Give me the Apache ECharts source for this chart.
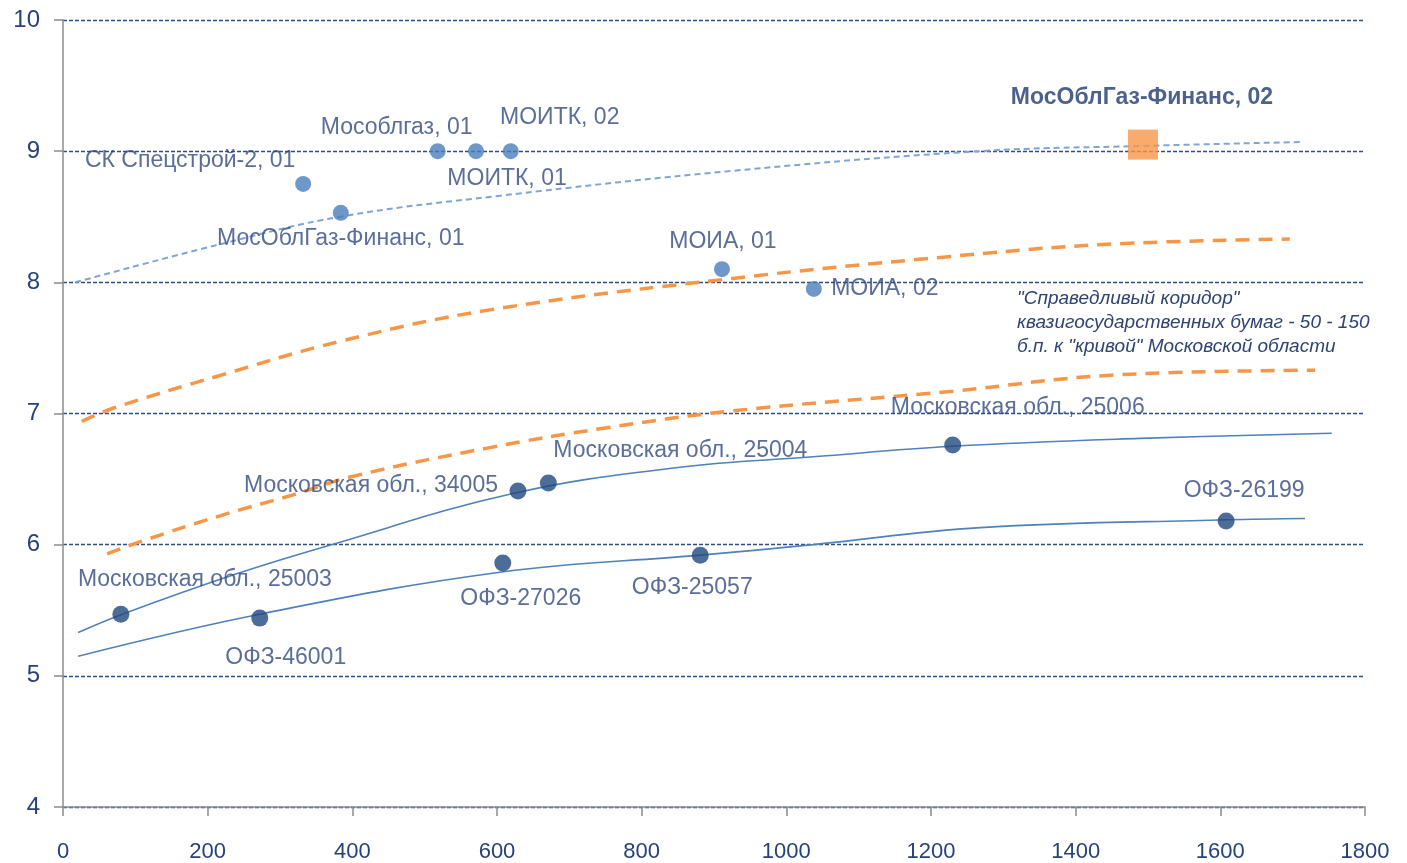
<!DOCTYPE html>
<html>
<head>
<meta charset="utf-8">
<script src="https://cdn.jsdelivr.net/npm/echarts@6/dist/echarts.min.js"></script>
<style>
html,body{margin:0;padding:0;background:#fff;}
#c{width:1407px;height:863px;}
</style>
</head>
<body>
<div id="c"></div>
<script>
// ---- data ----
const quasiNames = ["СК Спецстрой-2, 01","МосОблГаз-Финанс, 01","Мособлгаз, 01","МОИТК, 01","МОИТК, 02","МОИА, 01","МОИА, 02"];
const quasiX = [332, 384, 518, 571, 619, 911, 1038];
const quasiY = [8.75, 8.53, 9.00, 9.00, 9.00, 8.10, 7.95];

const regionNames = ["Московская обл., 25003","ОФЗ-46001","Московская обл., 34005","Московская обл., 25004","ОФЗ-27026","ОФЗ-25057","Московская обл., 25006","ОФЗ-26199"];
const regionX = [80, 272, 629, 671, 608, 881, 1230, 1608];
const regionY = [5.47, 5.44, 6.41, 6.47, 5.86, 5.92, 6.76, 6.18];

const newIssueNames = ["МосОблГаз-Финанс, 02"];
const newIssueX = [1493];
const newIssueY = [9.05];

const quasiTrendX = [17, 217, 383, 604, 926, 1268, 1493, 1713];
const quasiTrendY = [8.00, 8.29, 8.50, 8.66, 8.85, 9.00, 9.04, 9.07];

const corridorUpperX = [26, 69, 217, 383, 590, 926, 1213, 1443, 1696];
const corridorUpperY = [6.94, 7.04, 7.29, 7.55, 7.79, 8.03, 8.19, 8.29, 8.33];

const corridorLowerX = [61, 111, 217, 318, 400, 590, 750, 926, 1230, 1443, 1731];
const corridorLowerY = [5.93, 6.03, 6.22, 6.38, 6.52, 6.74, 6.89, 7.02, 7.17, 7.29, 7.33];

const mosCurveX = [21, 82, 241, 365, 622, 853, 1037, 1230, 1489, 1754];
const mosCurveY = [5.33, 5.47, 5.78, 5.99, 6.39, 6.59, 6.67, 6.75, 6.81, 6.85];

const ofzCurveX = [21, 272, 604, 881, 1037, 1268, 1609, 1717];
const ofzCurveY = [5.15, 5.47, 5.79, 5.92, 6.00, 6.13, 6.19, 6.20];

const annotationLines = ["\"Справедливый коридор\"", "квазигосударственных бумаг - 50 - 150", "б.п. к \"кривой\" Московской области"];

// ---- label placement (style, kept separate from data) ----
const labelOffsets = {
  "СК Спецстрой-2, 01": [-113, -23],
  "МосОблГаз-Финанс, 01": [0, 26],
  "Мособлгаз, 01": [-41, -24],
  "МОИТК, 01": [31, 27],
  "МОИТК, 02": [49, -34],
  "МОИА, 01": [1, -28],
  "МОИА, 02": [71, 0],
  "МосОблГаз-Финанс, 02": [-1, -47],
  "Московская обл., 25003": [84, -35],
  "ОФЗ-46001": [26, 40],
  "Московская обл., 34005": [-147, -5],
  "Московская обл., 25004": [132, -32],
  "ОФЗ-27026": [18, 36],
  "ОФЗ-25057": [-8, 32],
  "Московская обл., 25006": [65, -37],
  "ОФЗ-26199": [18, -30]
};

const FONT = "'Liberation Sans', Arial, sans-serif";
const LABEL_COLOR = "#324A80";

function pts(xs, ys) { return xs.map((x, i) => [x, ys[i]]); }
function labeled(names, xs, ys, bold) {
  return names.map((n, i) => ({
    name: n,
    value: [xs[i], ys[i]],
    label: {
      show: true, position: 'inside', offset: labelOffsets[n],
      formatter: n, color: bold ? '#1F3A6E' : LABEL_COLOR,
      fontSize: 23, fontWeight: bold ? 'bold' : 'normal',
      fontFamily: FONT
    }
  }));
}

const chart = echarts.init(document.getElementById('c'));
chart.setOption({
  animation: false,
  backgroundColor: '#fff',
  grid: { left: 63, right: 42, top: 20, bottom: 53 },
  xAxis: {
    type: 'value', min: 0, max: 1800, interval: 200,
    axisLine: { show: true, onZero: false, lineStyle: { color: '#8C8C8C', width: 1.5 } },
    axisTick: { show: true, length: 9, lineStyle: { color: '#8C8C8C', width: 1.5 } },
    axisLabel: { color: '#27427A', fontSize: 22, fontFamily: FONT, margin: 34, formatter: v => String(v) },
    splitLine: { show: false }
  },
  yAxis: {
    type: 'value', min: 4, max: 10, interval: 1,
    axisLine: { show: true, onZero: false, lineStyle: { color: '#8C8C8C', width: 1.5 } },
    axisTick: { show: true, inside: false, length: 9, lineStyle: { color: '#8C8C8C', width: 1.5 } },
    axisLabel: { color: '#27427A', fontSize: 24, fontFamily: FONT, margin: 23, formatter: v => String(v) },
    splitLine: { show: true, lineStyle: { color: '#2E4D87', width: 1.3, type: [4, 2] } }
  },
  graphic: [{
    type: 'group', left: 1017, top: 289,
    children: annotationLines.map((t, i) => ({
      type: 'text', left: 0, top: i * 24,
      style: { text: t, fill: '#2E4375', font: "italic 19px " + FONT }
    }))
  }],
  series: [
    { type: 'line', data: pts(quasiTrendX, quasiTrendY), smooth: 0.4, symbol: 'none',
      lineStyle: { color: '#7FA5D6', width: 2, type: [6, 4] }, z: 2 },
    { type: 'line', data: pts(corridorUpperX, corridorUpperY), smooth: 0.4, symbol: 'none',
      lineStyle: { color: '#F79646', width: 3.5, type: [14, 9] }, z: 2 },
    { type: 'line', data: pts(corridorLowerX, corridorLowerY), smooth: 0.4, symbol: 'none',
      lineStyle: { color: '#F79646', width: 3.5, type: [14, 9] }, z: 2 },
    { type: 'line', data: pts(mosCurveX, mosCurveY), smooth: 0.4, symbol: 'none',
      lineStyle: { color: '#4F81BD', width: 1.6 }, z: 2 },
    { type: 'line', data: pts(ofzCurveX, ofzCurveY), smooth: 0.4, symbol: 'none',
      lineStyle: { color: '#4F81BD', width: 1.6 }, z: 2 },
    { type: 'scatter', data: labeled(quasiNames, quasiX, quasiY, false), symbol: 'circle', symbolSize: 16,
      itemStyle: { color: '#4A7EBB' }, z: 5 },
    { type: 'scatter', data: labeled(regionNames, regionX, regionY, false), symbol: 'circle', symbolSize: 17,
      itemStyle: { color: '#1F497D' }, z: 5 },
    { type: 'scatter', data: labeled(newIssueNames, newIssueX, newIssueY, true), symbol: 'rect', symbolSize: 30,
      itemStyle: { color: '#F79646' }, z: 5 }
  ]
});
</script>
</body>
</html>
